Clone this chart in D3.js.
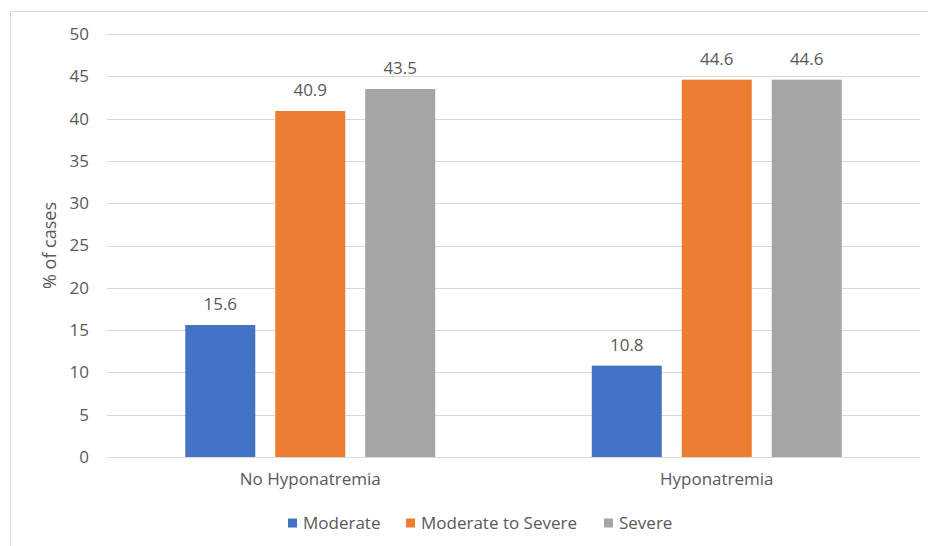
<!DOCTYPE html>
<html>
<head>
<meta charset="utf-8">
<script src="https://cdn.jsdelivr.net/npm/d3@7"></script>
<style>
  html, body { margin: 0; padding: 0; background: #fff; }
  svg { display: block; font-family: "Open Sans", sans-serif; }
</style>
</head>
<body>
<svg id="chart" width="928" height="546"></svg>
<script>
// Share of cases by severity, split by hyponatremia status
const groups = ["No Hyponatremia", "Hyponatremia"];
const seriesNames = ["Moderate", "Moderate to Severe", "Severe"];
const moderate = [15.6, 10.8];
const moderateToSevere = [40.9, 44.6];
const severe = [43.5, 44.6];
const yTicks = [0, 5, 10, 15, 20, 25, 30, 35, 40, 45, 50];
const colors = ["#4472C4", "#ED7D31", "#A5A5A5"];

const seriesValues = [moderate, moderateToSevere, severe];
const rows = groups.map((g, i) => ({
  group: g,
  values: seriesNames.map((s, k) => ({ series: s, value: seriesValues[k][i], k }))
}));

const svg = d3.select("#chart");
const textColor = "#595959";
const gridColor = "#D9D9D9";
const fontSize = 17;

// Chart frame
svg.append("rect")
  .attr("x", 10.5).attr("y", 11.5)
  .attr("width", 940).attr("height", 560)
  .attr("fill", "#fff").attr("stroke", gridColor).attr("stroke-width", 1);

const plot = { left: 107, right: 920, top: 34, bottom: 457 };

const y = d3.scaleLinear().domain([0, 50]).range([plot.bottom, plot.top]);
const x0 = d3.scaleBand().domain(groups).range([plot.left, plot.right]).padding(0);
const x1 = d3.scaleBand().domain(seriesNames)
  .range([0, x0.bandwidth()])
  .paddingInner(0.222)
  .paddingOuter(0.87);

// Horizontal gridlines
svg.append("g")
  .selectAll("line")
  .data(yTicks)
  .join("line")
  .attr("x1", plot.left).attr("x2", plot.right)
  .attr("y1", d => Math.round(y(d)) + 0.5)
  .attr("y2", d => Math.round(y(d)) + 0.5)
  .attr("stroke", gridColor).attr("stroke-width", 1.2);

// Y axis labels
const yAxis = d3.axisLeft(y).tickValues(yTicks).tickSize(0).tickPadding(0);
const yg = svg.append("g")
  .attr("transform", `translate(89,0)`)
  .call(yAxis);
yg.select(".domain").remove();
yg.selectAll("text")
  .attr("fill", textColor)
  .attr("font-size", fontSize)
  .attr("font-family", "Open Sans, sans-serif");

// Y axis title
svg.append("text")
  .attr("transform", `translate(56,${(plot.top + plot.bottom) / 2}) rotate(-90)`)
  .attr("text-anchor", "middle")
  .attr("fill", textColor)
  .attr("font-size", 18)
  .text("% of cases");

// Bars
const gGroups = svg.append("g")
  .selectAll("g")
  .data(rows)
  .join("g")
  .attr("transform", d => `translate(${x0(d.group)},0)`);

gGroups.selectAll("rect")
  .data(d => d.values)
  .join("rect")
  .attr("x", d => x1(d.series))
  .attr("y", d => y(d.value))
  .attr("width", x1.bandwidth())
  .attr("height", d => y(0) - y(d.value))
  .attr("fill", d => colors[d.k]);

// Value labels
gGroups.selectAll("text")
  .data(d => d.values)
  .join("text")
  .attr("x", d => x1(d.series) + x1.bandwidth() / 2)
  .attr("y", d => y(d.value) - 15)
  .attr("text-anchor", "middle")
  .attr("fill", textColor)
  .attr("font-size", fontSize)
  .text(d => d.value.toFixed(1));

// Category labels
const xAxis = d3.axisBottom(x0).tickSize(0).tickPadding(0);
const xg = svg.append("g")
  .attr("transform", `translate(0,${plot.bottom + 16})`)
  .call(xAxis);
xg.select(".domain").remove();
xg.selectAll("text")
  .attr("fill", textColor)
  .attr("font-size", fontSize)
  .attr("font-family", "Open Sans, sans-serif")
  .attr("dy", "0.71em");

// Legend
const legend = svg.append("g").attr("transform", "translate(0,523)");
const legendX = [288, 406, 604];
seriesNames.forEach((s, k) => {
  const g = legend.append("g").attr("transform", `translate(${legendX[k]},0)`);
  g.append("rect").attr("x", 0).attr("y", -4.5).attr("width", 9).attr("height", 9)
    .attr("fill", colors[k]);
  g.append("text").attr("x", 15).attr("y", 0).attr("dy", "0.35em")
    .attr("fill", textColor).attr("font-size", fontSize)
    .text(s);
});
</script>
</body>
</html>
